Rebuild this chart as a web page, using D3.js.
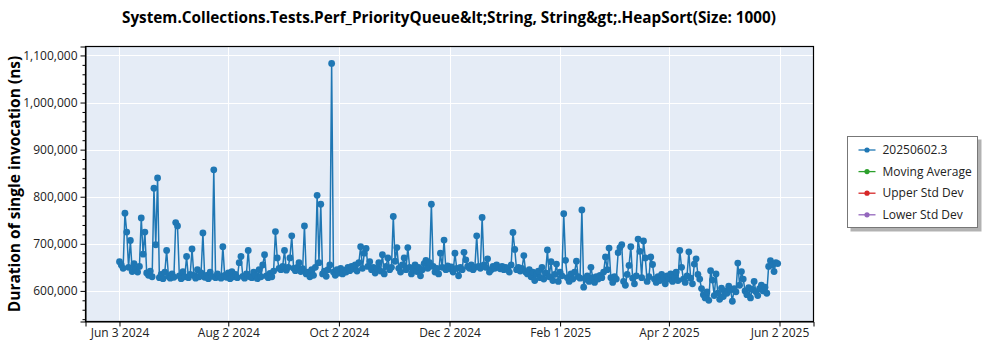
<!DOCTYPE html>
<html>
<head>
<meta charset="utf-8">
<script src="https://cdn.jsdelivr.net/npm/d3@7"></script>
<style>
  html, body { margin: 0; padding: 0; background: #ffffff; }
  svg { display: block; font-family: "Open Sans", "Noto Sans", sans-serif; }
</style>
</head>
<body>
<svg id="chart" width="1000" height="350"></svg>
<script>
// Benchmark run: one measurement per day starting on the first date below.
const firstRunDate = "2024-06-03";
// Duration of a single invocation, in microseconds (converted to ns when plotted).
const durationUs = [
  662,655,648,765,725,650,707,641,658,646,640,652,755,678,
  725,638,633,642,630,818,698,840,628,635,626,640,686,631,
  627,636,629,745,738,632,626,641,630,673,628,635,689,633,
  627,645,630,638,723,629,633,626,640,631,857,628,636,630,
  627,694,633,629,638,626,641,630,635,628,660,673,631,627,
  636,686,630,628,640,633,626,645,630,655,677,632,628,637,
  630,642,726,670,648,645,652,686,644,650,670,717,648,643,
  650,660,641,647,738,636,640,630,645,633,650,803,660,784,
  636,642,631,645,655,1083,640,633,645,638,648,636,644,640,
  650,643,652,647,655,642,660,694,648,680,690,652,662,645,
  650,638,648,660,642,677,636,652,670,645,650,758,663,692,
  648,640,655,670,645,692,650,636,647,655,641,650,632,645,
  658,665,648,660,784,652,640,648,636,680,650,708,645,653,
  647,651,640,680,648,632,650,645,682,666,652,648,655,645,
  650,717,652,648,756,655,650,668,640,645,652,648,655,650,
  647,652,645,650,648,640,655,724,688,645,650,642,648,675,
  640,636,645,630,640,622,635,642,628,650,625,638,687,630,
  662,622,635,657,620,640,632,764,665,628,620,636,625,640,
  663,630,627,772,608,625,632,620,650,628,618,630,625,633,
  628,640,672,645,691,628,618,630,625,681,692,698,620,612,
  635,654,694,627,615,632,710,684,628,706,670,620,630,672,
  656,625,618,630,622,635,627,615,632,625,636,620,628,640,
  622,686,650,625,618,632,683,627,615,657,668,635,625,605,
  592,585,598,580,643,623,590,636,595,582,606,588,600,595,
  610,602,578,605,598,659,612,641,625,600,592,607,585,603,
  620,598,590,605,612,600,608,595,652,664,655,641,660,658
];

const xTickDates = ["2024-06-03","2024-08-02","2024-10-02","2024-12-02","2025-02-01","2025-04-02","2025-06-02"];
const yTickValues = [600000, 700000, 800000, 900000, 1000000, 1100000];
const yMinorStep = 20000;
const xDomainDates = ["2024-05-15T06:00", "2025-06-20T18:00"];
const yDomain = [535000, 1119000];

const titleText = "System.Collections.Tests.Perf_PriorityQueue&lt;String, String&gt;.HeapSort(Size: 1000)";
const yAxisTitle = "Duration of single invocation (ns)";
const legendNames = ["20250602.3", "Moving Average", "Upper Std Dev", "Lower Std Dev"];
const legendColors = ["#1f77b4", "#2ca02c", "#d62728", "#9467bd"];

const parseDay = d3.utcParse("%Y-%m-%d");
const parseStamp = d3.utcParse("%Y-%m-%dT%H:%M");
const start = parseDay(firstRunDate);
const points = durationUs.map((v, i) => ({ date: d3.utcDay.offset(start, i), value: v * 1000 }));

const svg = d3.select("#chart");
const plot = { left: 85.5, right: 813.5, top: 46.5, bottom: 321.5 };

const x = d3.scaleUtc()
  .domain(xDomainDates.map(parseStamp))
  .range([plot.left, plot.right]);
const y = d3.scaleLinear()
  .domain(yDomain)
  .range([plot.bottom, plot.top]);

// plot background
svg.append("rect")
  .attr("x", plot.left).attr("y", plot.top)
  .attr("width", plot.right - plot.left).attr("height", plot.bottom - plot.top)
  .attr("fill", "#e5ecf6");

// grid
const grid = svg.append("g").attr("stroke", "#ffffff").attr("stroke-width", 1);
grid.selectAll("line.v").data(xTickDates.map(parseDay)).join("line")
  .attr("x1", d => Math.round(x(d)) + 0.5).attr("x2", d => Math.round(x(d)) + 0.5)
  .attr("y1", plot.top).attr("y2", plot.bottom);
grid.selectAll("line.h").data(yTickValues).join("line")
  .attr("y1", d => Math.round(y(d)) + 0.5).attr("y2", d => Math.round(y(d)) + 0.5)
  .attr("x1", plot.left).attr("x2", plot.right);

// series
const color = legendColors[0];
const line = d3.line().x(d => x(d.date)).y(d => y(d.value));
svg.append("path")
  .datum(points)
  .attr("d", line)
  .attr("fill", "none")
  .attr("stroke", color)
  .attr("stroke-width", 1.5)
  .attr("stroke-linejoin", "round");
svg.append("g").selectAll("circle").data(points).join("circle")
  .attr("cx", d => x(d.date))
  .attr("cy", d => y(d.value))
  .attr("r", 3.4)
  .attr("fill", color);

// axes
const fmt = d3.format(",");
const yAxis = d3.axisLeft(y).tickValues(yTickValues).tickFormat(fmt).tickSize(5).tickPadding(3);
svg.append("g").attr("transform", `translate(${plot.left},0)`).call(yAxis);
const minorVals = d3.range(540000, 1119001, yMinorStep).filter(v => v % 100000 !== 0);
const yMinor = d3.axisLeft(y).tickValues(minorVals).tickFormat("").tickSize(3);
svg.append("g").attr("transform", `translate(${plot.left},0)`).call(yMinor)
  .call(g => g.select(".domain").remove());

const xAxis = d3.axisBottom(x).tickValues(xTickDates.map(parseDay))
  .tickFormat(d3.utcFormat("%b %-d %Y")).tickSize(5).tickPadding(2);
svg.append("g").attr("transform", `translate(0,${plot.bottom})`).call(xAxis);

svg.selectAll(".tick text").attr("font-size", 12).attr("fill", "#222")
  .attr("font-family", "'Open Sans', sans-serif");
svg.selectAll(".domain, .tick line").attr("stroke", "#000");

// frame
svg.append("rect")
  .attr("x", plot.left).attr("y", plot.top)
  .attr("width", plot.right - plot.left).attr("height", plot.bottom - plot.top)
  .attr("fill", "none").attr("stroke", "#000").attr("stroke-width", 1.2);

// titles
svg.append("text")
  .attr("x", 449).attr("y", 23)
  .attr("text-anchor", "middle")
  .attr("font-size", 15.3).attr("font-weight", "bold").attr("fill", "#000")
  .text(titleText);
svg.append("text")
  .attr("transform", `translate(20,${(plot.top + plot.bottom) / 2}) rotate(-90)`)
  .attr("text-anchor", "middle")
  .attr("font-size", 15.5).attr("font-weight", "bold").attr("fill", "#000")
  .text(yAxisTitle);

// legend
const lg = svg.append("g").attr("transform", "translate(847.5,136.5)");
lg.append("rect").attr("x", 3).attr("y", 3).attr("width", 131).attr("height", 92)
  .attr("fill", "#555").attr("opacity", 0.45);
lg.append("rect").attr("width", 130).attr("height", 91)
  .attr("fill", "#fff").attr("stroke", "#777");
const rows = lg.selectAll("g.row").data(legendNames).join("g")
  .attr("transform", (d, i) => `translate(0,${13.5 + i * 21.6})`);
rows.append("line").attr("x1", 11).attr("x2", 28).attr("y1", 0).attr("y2", 0)
  .attr("stroke", (d, i) => legendColors[i]).attr("stroke-width", 1.3);
rows.append("circle").attr("cx", 19.5).attr("cy", 0).attr("r", 2.6)
  .attr("fill", (d, i) => legendColors[i]);
rows.append("text").attr("x", 35).attr("y", 0).attr("dy", "0.35em")
  .attr("font-size", 12).attr("fill", "#222").text(d => d);
</script>
</body>
</html>
